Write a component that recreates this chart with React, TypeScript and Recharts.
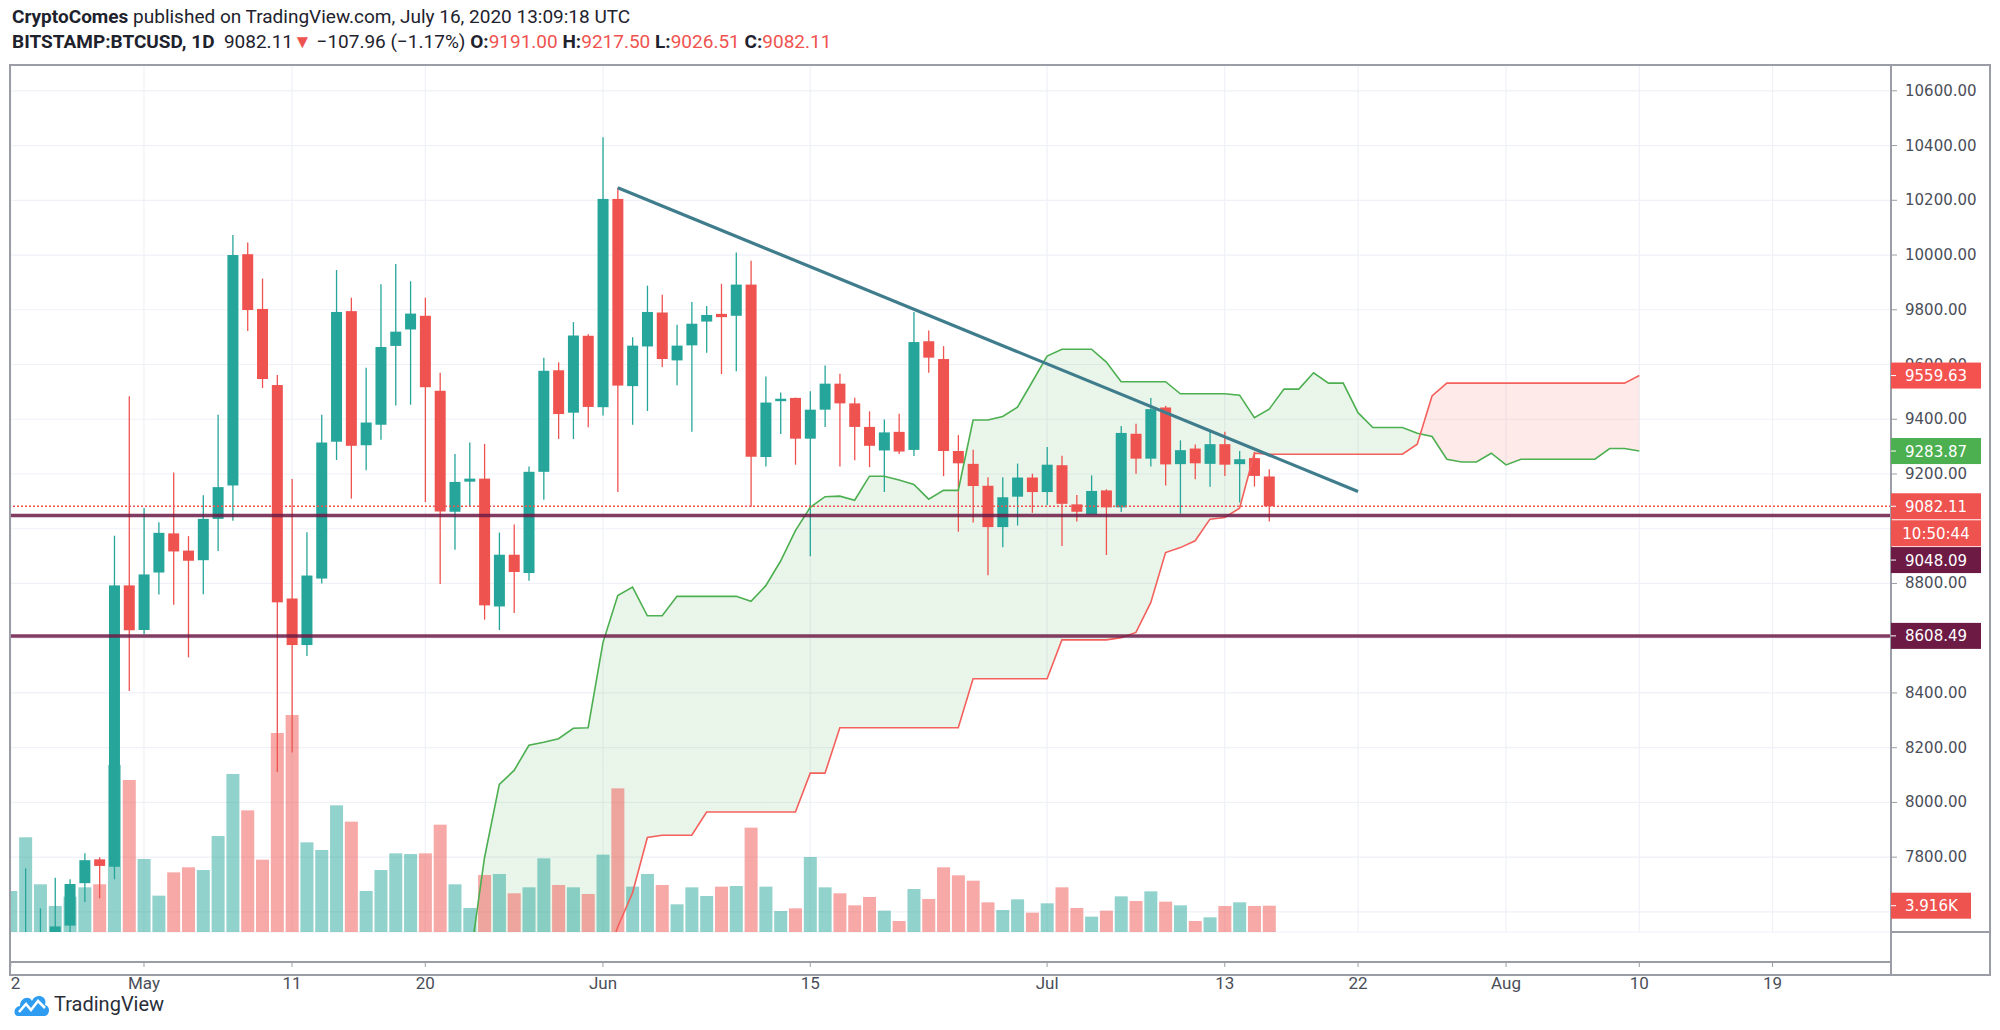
import React from 'react';
import {
    ComposedChart,
    Bar,
    Line,
    Area,
    XAxis,
    YAxis,
    CartesianGrid,
    ReferenceLine,
} from 'recharts';

// day index 0 = May 1, 2020; candles run Apr 22 .. Jul 16
const firstDay = -9;
const opens = [
    6845, 7125, 7490, 7510, 7550, 7705, 7792, 7765, 8793, 8630,
    8840, 8983, 8920, 8885, 9036, 9158, 10003, 9803, 9525, 8745,
    8575, 8818, 9318, 9795, 9305, 9380, 9668, 9728, 9778, 9504,
    9062, 9172, 9183, 8716, 8905, 8838, 9208, 9579, 9424, 9705,
    9444, 10205, 9521, 9666, 9790, 9615, 9670, 9757, 9785, 9778,
    9892, 9262, 9466, 9478, 9329, 9435, 9530, 9458, 9372, 9286,
    9354, 9288, 9685, 9620, 9284, 9237, 9157, 9006, 9117, 9187,
    9134, 9232, 9089, 9052, 9140, 9078, 9347, 9256, 9443, 9236,
    9293, 9237, 9309, 9236, 9258, 9191,
];
const highs = [
    7140, 7759, 7613, 7725, 7719, 7814, 7800, 8974, 9484, 9076,
    9024, 9205, 8973, 9122, 9416, 10073, 10046, 9914, 9562, 9182,
    8987, 9416, 9945, 9844, 9588, 9893, 9967, 9904, 9844, 9570,
    9273, 9315, 9310, 8986, 9015, 9227, 9625, 9608, 9755, 9711,
    10430, 10246, 9700, 9888, 9855, 9745, 9828, 9814, 9895, 10009,
    9979, 9556, 9498, 9479, 9502, 9596, 9566, 9479, 9429, 9399,
    9420, 9792, 9724, 9667, 9342, 9289, 9188, 9188, 9238, 9201,
    9299, 9267, 9123, 9195, 9144, 9375, 9384, 9478, 9449, 9323,
    9308, 9354, 9354, 9284, 9281, 9217.5,
];
const lows = [
    6830, 7020, 7470, 7450, 7460, 7636, 7650, 7719, 8407, 8615,
    8760, 8722, 8530, 8761, 8919, 9029, 9722, 9514, 8111, 8182,
    8535, 8800, 9251, 9110, 9214, 9325, 9450, 9453, 9097, 8798,
    8923, 9082, 8668, 8630, 8692, 8810, 9106, 9328, 9328, 9371,
    9414, 9134, 9380, 9430, 9591, 9524, 9354, 9643, 9565, 9575,
    9080, 9227, 9346, 9234, 8899, 9372, 9227, 9250, 9225, 9134,
    9273, 9266, 9570, 9192, 8989, 9023, 8830, 8932, 9012, 9058,
    9087, 8937, 9026, 9052, 8904, 9061, 9201, 9227, 9158, 9055,
    9181, 9153, 9193, 9096, 9154, 9026.51,
];
const closes = [
    7125, 7490, 7510, 7547, 7702, 7789, 7768, 8793, 8629, 8833,
    8985, 8917, 8883, 9036, 9152, 10000, 9799, 9547, 8731, 8575,
    8829, 9315, 9792, 9303, 9388, 9664, 9720, 9786, 9517, 9063,
    9171, 9183, 8720, 8905, 8842, 9208, 9577, 9419, 9706, 9445,
    10205, 9523, 9669, 9792, 9620, 9669, 9749, 9781, 9773, 9892,
    9263, 9461, 9475, 9329, 9435, 9530, 9458, 9372, 9303, 9352,
    9282, 9682, 9625, 9284, 9239, 9156, 9006, 9115, 9187, 9134,
    9234, 9091, 9062, 9138, 9078, 9350, 9256, 9437, 9235, 9287,
    9239, 9309, 9234, 9254, 9193, 9082.11,
];
const volumes = [
    6105, 14100, 7100, 3871, 5260, 6650, 7100, 24870, 22630, 10870,
    5410, 8880, 9630, 9230, 14290, 23530, 18110, 10770, 29630, 32310,
    13350, 12210, 18860, 16430, 6105, 9230, 11710, 11610, 11710, 15980,
    7100, 3574, 8490, 8640, 5760, 6650, 10970, 7000, 6650, 5660,
    11520, 21390, 6750, 8640, 7000, 4120, 6650, 5360, 6750, 6850,
    15540, 6750, 3127, 3525, 11170, 6650, 5760, 3970, 5210, 3180,
    1640, 6400, 4915, 9630, 8440, 7640, 4420, 3276, 4865, 2880,
    4270, 6650, 3574, 2283, 3180, 5310, 4616, 6055, 4517, 3970,
    1640, 2184, 3871, 4420, 3871, 3916,
];

// Ichimoku leading spans, May 23 .. Aug 10
const cloudStart = 22;
const spanA = [
    7415, 7798, 8066, 8117, 8209, 8220, 8233, 8271, 8273, 8584,
    8756, 8787, 8682, 8682, 8753, 8753, 8753, 8753, 8753, 8735,
    8792, 8882, 8993, 9078, 9117, 9119, 9104, 9192, 9192, 9178,
    9162, 9108, 9140, 9140, 9397, 9397, 9410, 9444, 9537, 9631,
    9656, 9656, 9656, 9609, 9537, 9537, 9537, 9537, 9493, 9493,
    9493, 9493, 9488, 9406, 9437, 9510, 9510, 9570, 9532, 9532,
    9424, 9370, 9370, 9370, 9349, 9337, 9254, 9244, 9244, 9276,
    9233, 9254, 9254, 9254, 9254, 9254, 9254, 9293, 9293, 9283.87,
];
const spanB = [
    7380, 7380, 7380, 7380, 7380, 7380, 7380, 7380, 7380, 7380,
    7545, 7670, 7872, 7880, 7880, 7880, 7965, 7965, 7965, 7965,
    7965, 7965, 7965, 8107, 8107, 8273, 8273, 8273, 8273, 8273,
    8273, 8273, 8273, 8273, 8452, 8452, 8452, 8452, 8452, 8452,
    8594, 8594, 8594, 8594, 8602, 8621, 8730, 8913, 8931, 8956,
    9035, 9041, 9075, 9276, 9272, 9272, 9272, 9272, 9272, 9272,
    9272, 9272, 9272, 9272, 9309, 9485, 9532, 9532, 9532, 9532,
    9532, 9532, 9532, 9532, 9532, 9532, 9532, 9532, 9532, 9559.63,
];

const trendDays = [32, 82];
const trendPrices = [10246, 9136];

const levels = [9048.09, 8608.49];
const lastPrice = 9082.11;
const lastVolume = 3916;

const tickDays = [-9, 0, 10, 19, 31, 45, 61, 73, 82, 92, 101, 110];
const tickLabels = ['22', 'May', '11', '20', 'Jun', '15', 'Jul', '13', '22', 'Aug', '10', '19'];
const priceTicks = [7600, 7800, 8000, 8200, 8400, 8600, 8800, 9000, 9200, 9400, 9600, 9800, 10000, 10200, 10400, 10600];
// these two scale labels sit completely under the price tags
const coveredTicks = [8600, 9000];

const GREEN = '#26a69a';
const RED = '#ef5350';
const MAROON = '#6d1a45';
const TAG_FONT = '"DejaVu Sans", Verdana, sans-serif';
const UI_FONT = 'Roboto, "Liberation Sans", Arial, sans-serif';
const X_DOMAIN: [number, number] = [-9.05, 118];
const PRICE_DOMAIN: [number, number] = [7526.6, 10694.3];
const VOL_DOMAIN: [number, number] = [0, 129100];

const lastDay = cloudStart + spanA.length - 1;
const rows: any[] = [];
for (let d = firstDay; d <= lastDay; d++) {
    const i = d - firstDay;
    const j = d - cloudStart;
    const t = trendDays.indexOf(d);
    rows.push({
        d,
        o: i < opens.length ? opens[i] : null,
        h: i < highs.length ? highs[i] : null,
        l: i < lows.length ? lows[i] : null,
        c: i < closes.length ? closes[i] : null,
        vol: i < volumes.length ? volumes[i] : null,
        a: j >= 0 ? spanA[j] : null,
        b: j >= 0 ? spanB[j] : null,
        trend: t >= 0 ? trendPrices[t] : null,
    });
}

// where span A drops below span B -> colour switch of the cloud
let cross = 1;
for (let j = 1; j < spanA.length; j++) {
    const p = spanA[j - 1] - spanB[j - 1];
    const q = spanA[j] - spanB[j];
    if (p > 0 && q <= 0) {
        cross = (j - 1 + p / (p - q)) / (spanA.length - 1);
        break;
    }
}

const Candle = (props: any) => {
    const { x, y, width, height, payload } = props;
    if (!payload || payload.o == null || !height) return null;
    const { o, h, l, c } = payload;
    const top = Math.min(y, y + height);
    const span = Math.abs(height);
    const py = (p: number) => top + ((h - p) / (h - l)) * span;
    const color = c >= o ? GREEN : RED;
    const cx = x + width / 2;
    const bTop = py(Math.max(o, c));
    const bBot = py(Math.min(o, c));
    return (
        <g>
            <line x1={cx} x2={cx} y1={top} y2={top + span} stroke={color} strokeWidth={1.3} />
            <rect x={x} y={bTop} width={width} height={Math.max(1, bBot - bTop)} fill={color} />
        </g>
    );
};

const VolBar = (props: any) => {
    const { x, y, width, height, payload } = props;
    if (!payload || payload.vol == null) return null;
    return (
        <rect
            x={x}
            y={Math.min(y, y + height)}
            width={width}
            height={Math.abs(height)}
            fill={payload.c >= payload.o ? GREEN : RED}
            fillOpacity={0.5}
        />
    );
};

const PriceTick = ({ x, y, payload }: any) =>
    coveredTicks.includes(payload.value) ? null : (
        <text x={x + 6} y={y + 5} fill="#4a4e59" fontSize={15} fontFamily={TAG_FONT}>
            {Number(payload.value).toFixed(2)}
        </text>
    );

const TimeTick = ({ x, y, payload }: any) => {
    const k = tickDays.indexOf(payload.value);
    return (
        <g clipPath="url(#timeClip)">
            <text x={x} y={y + 20} textAnchor="middle" fill="#4a4e59" fontSize={17} fontFamily={UI_FONT}>
                {k >= 0 ? tickLabels[k] : ''}
            </text>
        </g>
    );
};

// price tag drawn in the right scale, next to the line end
const Tag = (props: any) => {
    const { viewBox, text, bg, dy = 0, w = 90, extra } = props;
    if (!viewBox) return null;
    const x = viewBox.x + viewBox.width;
    const y = viewBox.y + dy;
    return (
        <g>
            <rect x={x} y={y - 13} width={w} height={26} fill={bg} />
            <line x1={x} x2={x + 5} y1={y} y2={y} stroke="#fff" />
            <text x={x + 14} y={y + 5.5} fill="#fff" fontSize={15} fontFamily={TAG_FONT}>
                {text}
            </text>
            {extra ? (
                <g>
                    <rect x={x} y={y + 14} width={w} height={26} fill={bg} />
                    <text x={x + w / 2} y={y + 32.5} fill="#fff" fontSize={15} textAnchor="middle" fontFamily={TAG_FONT}>
                        {extra}
                    </text>
                </g>
            ) : null}
        </g>
    );
};

const border = '#9a9da6';

export default function BtcIchimokuChart() {
    return (
        <div style={{ position: 'absolute', left: 0, top: 0, width: 2000, height: 1030, background: '#fff', overflow: 'hidden' }}>
            {/* header */}
            <div style={{ position: 'absolute', left: 12, top: 5, fontFamily: UI_FONT, fontSize: 19, color: '#1e222d', whiteSpace: 'nowrap' }}>
                <b>CryptoComes</b> published on TradingView.com, July 16, 2020 13:09:18 UTC
            </div>
            <div style={{ position: 'absolute', left: 12, top: 30, fontFamily: UI_FONT, fontSize: 19, color: '#1e222d', whiteSpace: 'nowrap' }}>
                <b>BITSTAMP:BTCUSD, 1D</b>&nbsp; 9082.11<span style={{ color: RED }}>▼</span> −107.96 (−1.17%){' '}
                <b>O:</b><span style={{ color: RED }}>9191.00</span> <b>H:</b><span style={{ color: RED }}>9217.50</span>{' '}
                <b>L:</b><span style={{ color: RED }}>9026.51</span> <b>C:</b><span style={{ color: RED }}>9082.11</span>
            </div>

            <div style={{ position: 'absolute', left: 0, top: 0 }}>
                <ComposedChart width={2000} height={1030} data={rows} margin={{ top: 65, right: 8, bottom: 54, left: 10 }}>
                    <defs>
                        <clipPath id="timeClip">
                            <rect x={11} y={0} width={1880} height={1030} />
                        </clipPath>
                        <linearGradient id="cloudFill" x1="0" y1="0" x2="1" y2="0">
                            <stop offset={0} stopColor="#4caf50" stopOpacity={0.12} />
                            <stop offset={cross} stopColor="#4caf50" stopOpacity={0.12} />
                            <stop offset={cross} stopColor="#f44336" stopOpacity={0.11} />
                            <stop offset={1} stopColor="#f44336" stopOpacity={0.11} />
                        </linearGradient>
                    </defs>
                    <CartesianGrid xAxisId="x" yAxisId="price" stroke="#eff1f7" strokeWidth={1.2} />
                    <XAxis
                        xAxisId="x"
                        dataKey="d"
                        type="number"
                        domain={X_DOMAIN}
                        allowDataOverflow
                        ticks={tickDays}
                        interval={0}
                        height={44}
                        tick={<TimeTick />}
                        tickSize={5}
                        tickLine={{ stroke: border }}
                        axisLine={{ stroke: border, strokeWidth: 2 }}
                    />
                    <XAxis xAxisId="vx" dataKey="d" type="number" domain={X_DOMAIN} allowDataOverflow hide />
                    <YAxis
                        yAxisId="price"
                        orientation="right"
                        type="number"
                        domain={PRICE_DOMAIN}
                        allowDataOverflow
                        ticks={priceTicks}
                        interval={0}
                        width={101}
                        tick={<PriceTick />}
                        tickSize={6}
                        tickLine={{ stroke: border }}
                        axisLine={{ stroke: border, strokeWidth: 2 }}
                    />
                    <YAxis yAxisId="vol" type="number" domain={VOL_DOMAIN} allowDataOverflow hide />

                    <Bar xAxisId="vx" yAxisId="vol" dataKey="vol" barSize={13} shape={<VolBar />} isAnimationActive={false} />

                    <Area
                        xAxisId="x"
                        yAxisId="price"
                        dataKey={(r: any) => (r.a != null ? [r.b, r.a] : null)}
                        type="linear"
                        stroke="none"
                        fill="url(#cloudFill)"
                        fillOpacity={1}
                        isAnimationActive={false}
                    />
                    <Line xAxisId="x" yAxisId="price" dataKey="a" type="linear" stroke="#4caf50" strokeWidth={1.6} dot={false} activeDot={false} isAnimationActive={false} />
                    <Line xAxisId="x" yAxisId="price" dataKey="b" type="linear" stroke="#f4605c" strokeWidth={1.6} dot={false} activeDot={false} isAnimationActive={false} />

                    <ReferenceLine xAxisId="x" yAxisId="price" y={lastPrice} stroke={RED} strokeDasharray="2 2" strokeWidth={1.3} />

                    <Bar
                        xAxisId="x"
                        yAxisId="price"
                        dataKey={(r: any) => (r.o != null ? [r.l, r.h] : null)}
                        barSize={11}
                        shape={<Candle />}
                        isAnimationActive={false}
                    />

                    {levels.map((lv) => (
                        <ReferenceLine key={lv} xAxisId="x" yAxisId="price" y={lv} stroke={MAROON} strokeOpacity={0.85} strokeWidth={3.5} />
                    ))}

                    <Line
                        xAxisId="x"
                        yAxisId="price"
                        dataKey="trend"
                        connectNulls
                        type="linear"
                        stroke="#3f7c8c"
                        strokeWidth={3.2}
                        dot={false}
                        activeDot={false}
                        isAnimationActive={false}
                    />
                </ComposedChart>
            </div>

            {/* price tags: a second, transparent layer with the same scales, so they sit above the scale labels */}
            <div style={{ position: 'absolute', left: 0, top: 0 }}>
                <ComposedChart width={2000} height={1030} data={rows} margin={{ top: 65, right: 109, bottom: 98, left: 10 }}>
                    <XAxis xAxisId="x" dataKey="d" type="number" domain={X_DOMAIN} allowDataOverflow hide />
                    <XAxis xAxisId="vx" dataKey="d" type="number" domain={X_DOMAIN} allowDataOverflow hide />
                    <YAxis yAxisId="price" type="number" domain={PRICE_DOMAIN} allowDataOverflow hide />
                    <YAxis yAxisId="vol" type="number" domain={VOL_DOMAIN} allowDataOverflow hide />
                    <ReferenceLine xAxisId="x" yAxisId="price" y={spanB[spanB.length - 1]} stroke="none"
                        label={<Tag text={spanB[spanB.length - 1].toFixed(2)} bg="#f4524f" />} />
                    <ReferenceLine xAxisId="x" yAxisId="price" y={spanA[spanA.length - 1]} stroke="none"
                        label={<Tag text={spanA[spanA.length - 1].toFixed(2)} bg="#4caf50" />} />
                    <ReferenceLine xAxisId="x" yAxisId="price" y={levels[1]} stroke="none"
                        label={<Tag text={levels[1].toFixed(2)} bg={MAROON} />} />
                    <ReferenceLine xAxisId="x" yAxisId="price" y={levels[0]} stroke="none"
                        label={<Tag text={levels[0].toFixed(2)} bg={MAROON} dy={44.5} />} />
                    <ReferenceLine xAxisId="x" yAxisId="price" y={lastPrice} stroke="none"
                        label={<Tag text={lastPrice.toFixed(2)} bg={RED} extra="10:50:44" />} />
                    <ReferenceLine xAxisId="vx" yAxisId="vol" y={lastVolume} stroke="none"
                        label={<Tag text={(lastVolume / 1000).toFixed(3) + 'K'} bg={RED} w={80} />} />
                </ComposedChart>
            </div>

            {/* pane frame */}
            <div style={{ position: 'absolute', left: 9, top: 64, width: 1982, height: 912, border: `2px solid ${border}`, boxSizing: 'border-box', pointerEvents: 'none' }} />
            <div style={{ position: 'absolute', left: 1890, top: 931, width: 100, height: 2, background: border }} />
            <div style={{ position: 'absolute', left: 1890, top: 932, width: 2, height: 44, background: border }} />

            {/* footer logo */}
            <div style={{ position: 'absolute', left: 14, top: 990, display: 'flex', alignItems: 'center', gap: 4 }}>
                <svg width={36} height={28} viewBox="0 0 36 28">
                    <path d="M4 26 C-1 26 -1 17 6 16 C6 8 15 5 18 11 C21 3 34 5 31 15 C37 16 36 26 30 26 Z" fill="#2e9cf1" />
                    <polyline points="5,22 12,14 17,20 24,11 31,18" stroke="#fff" strokeWidth={2.6} fill="none" />
                </svg>
                <span style={{ fontFamily: UI_FONT, fontSize: 20, color: '#2a2e39' }}>TradingView</span>
            </div>
        </div>
    );
}
